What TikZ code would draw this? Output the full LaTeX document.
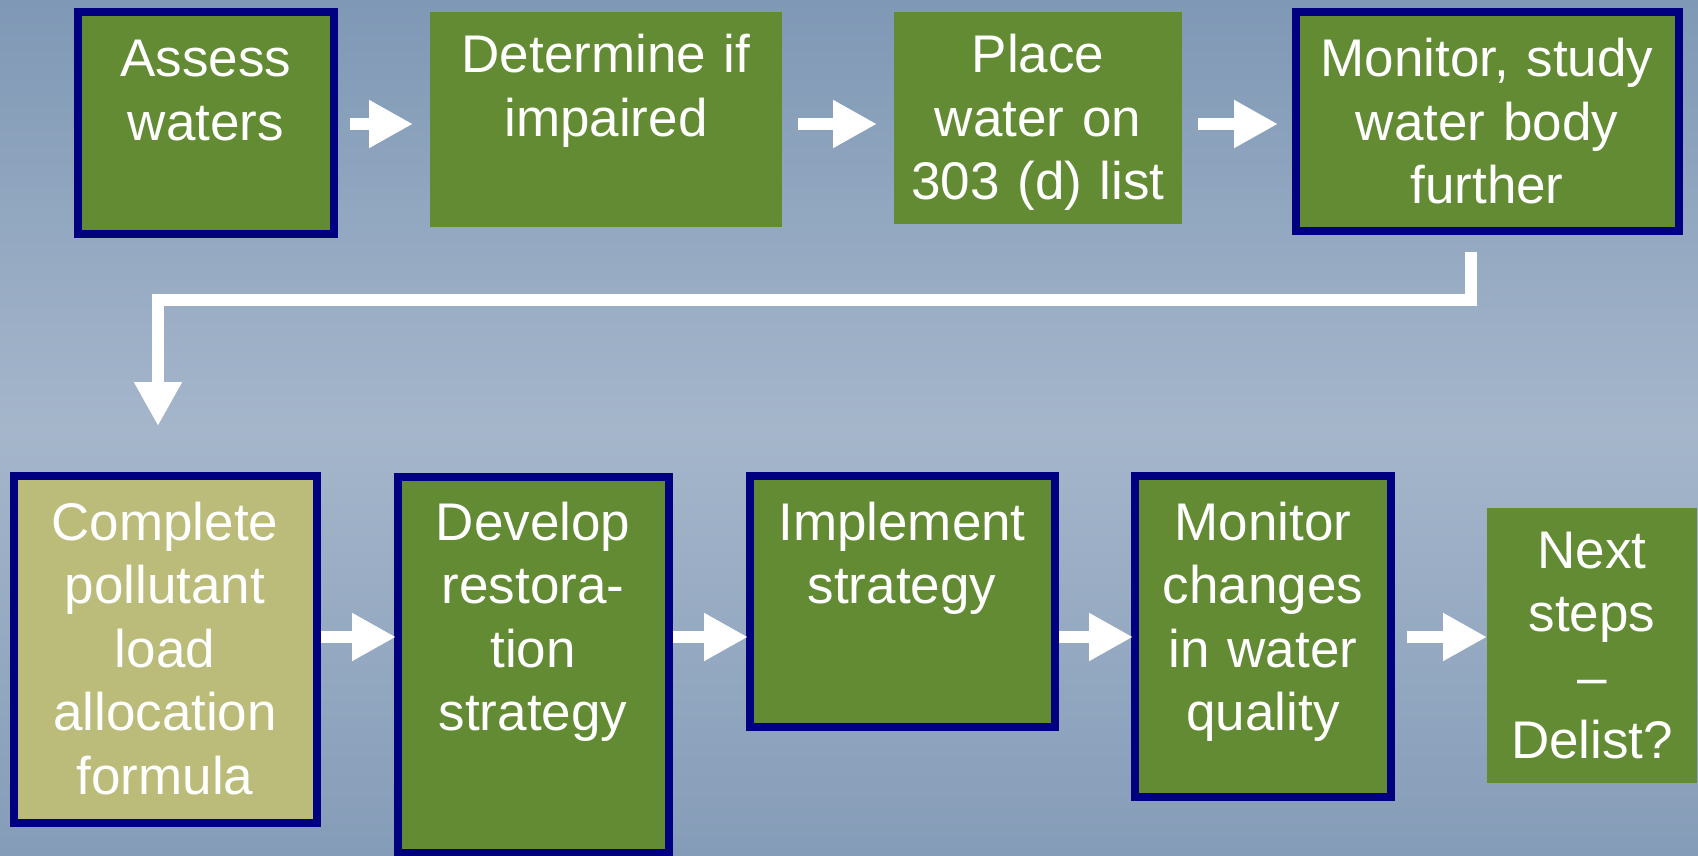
\documentclass[tikz,border=0pt]{standalone}
\usepackage{fontspec}
\setmainfont{Liberation Sans}
\usetikzlibrary{arrows.meta}

\definecolor{stepgreen}{RGB}{99,139,51}
\definecolor{steptan}{RGB}{188,188,122}
\definecolor{stepnavy}{RGB}{0,0,128}
\definecolor{bgtop}{RGB}{127,152,181}
\definecolor{bgmid}{RGB}{165,182,203}
\definecolor{bgbot}{RGB}{133,156,184}

\begin{document}
\begin{tikzpicture}[x=0.5pt,y=-0.5pt,
  plainbox/.style={rectangle,fill=stepgreen,inner sep=0pt,outer sep=0pt},
  framedbox/.style={rectangle,fill=stepgreen,draw=stepnavy,line width=4pt,inner sep=0pt},
  label/.style={text=white,text width=200pt,align=center,anchor=base,inner sep=0pt,
    font=\fontsize{26.5}{31.75}\selectfont},
  flow/.style={draw=white,line width=6pt,line join=miter,line cap=butt,
    -{Triangle[length=22pt,width=22.5pt]}}]

% backdrop: light band across the middle, darker at top and bottom
\shade[top color=bgtop,bottom color=bgmid] (0,0) rectangle (1698,430);
\shade[top color=bgmid,bottom color=bgbot] (0,429) rectangle (1698,856);
\useasboundingbox (0,0) rectangle (1698,856);

% row guides
\coordinate (r1) at (0,124);
\coordinate (r2) at (0,637);
\coordinate (r3) at (0,300);

% upper row
\node[framedbox,minimum width=128pt,minimum height=111pt] (b1) at (206,123) {};
\node[plainbox,minimum width=176pt,minimum height=107.5pt] (b2) at (606,119.5) {};
\node[plainbox,minimum width=144pt,minimum height=106pt] (b3) at (1038,118) {};
\node[framedbox,minimum width=191.5pt,minimum height=109.5pt] (b4) at (1487.5,121.5) {};

% lower row
\node[framedbox,fill=steptan,minimum width=151.5pt,minimum height=173.5pt] (b5) at (165.5,649.5) {};
\node[framedbox,minimum width=135.5pt,minimum height=188pt] (b6) at (533.5,664.5) {};
\node[framedbox,minimum width=152.5pt,minimum height=125.5pt] (b7) at (902.5,601.5) {};
\node[framedbox,minimum width=128pt,minimum height=160.5pt] (b8) at (1263,636.5) {};
\node[plainbox,minimum width=105pt,minimum height=137.5pt] (b9) at (1592,645.5) {};

% captions
\node[label] (t1) at (206,77) {Assess\\waters};
\node[label] (t2) at (606,73) {Determine if\\impaired};
\node[label] (t3) at (1038,73) {Place\\water on\\303 (d) list};
\node[label] (t4) at (1487,77) {Monitor, study\\water body\\further};
\node[label] (t5) at (165,540) {Complete\\pollutant\\load\\allocation\\formula};
\node[label] (t6) at (533,540) {Develop\\restora-\\tion\\strategy};
\node[label] (t7) at (902,540) {Implement\\strategy};
\node[label] (t8) at (1263,540) {Monitor\\changes\\in water\\quality};
\node[label] (t9) at (1592,568) {Next\\steps\\–\\Delist?};

% arrows between steps
\draw[flow] ([xshift=6pt]b1.east |- r1) -- ([xshift=-8.5pt]b2.west |- r1);
\draw[flow] ([xshift=8pt]b2.east |- r1) -- ([xshift=-8.5pt]b3.west |- r1);
\draw[flow] ([xshift=8pt]b3.east |- r1) -- ([xshift=-7pt]b4.west |- r1);

\coordinate (e1) at ([shift={(-8.25pt,-8.5pt)}]b4.south);
\coordinate (e2) at ([shift={(-3.75pt,23pt)}]b5.north);
\draw[flow] (e1) |- (r3 -| e2) -- (e2);

\draw[flow] (b5.east |- r2) -- ([xshift=1pt]b6.west |- r2);
\draw[flow] (b6.east |- r2) -- ([xshift=1pt]b7.west |- r2);
\draw[flow] (b7.east |- r2) -- ([xshift=1pt]b8.west |- r2);
\draw[flow] ([xshift=6pt]b8.east |- r2) -- (b9.west |- r2);
\end{tikzpicture}
\end{document}
